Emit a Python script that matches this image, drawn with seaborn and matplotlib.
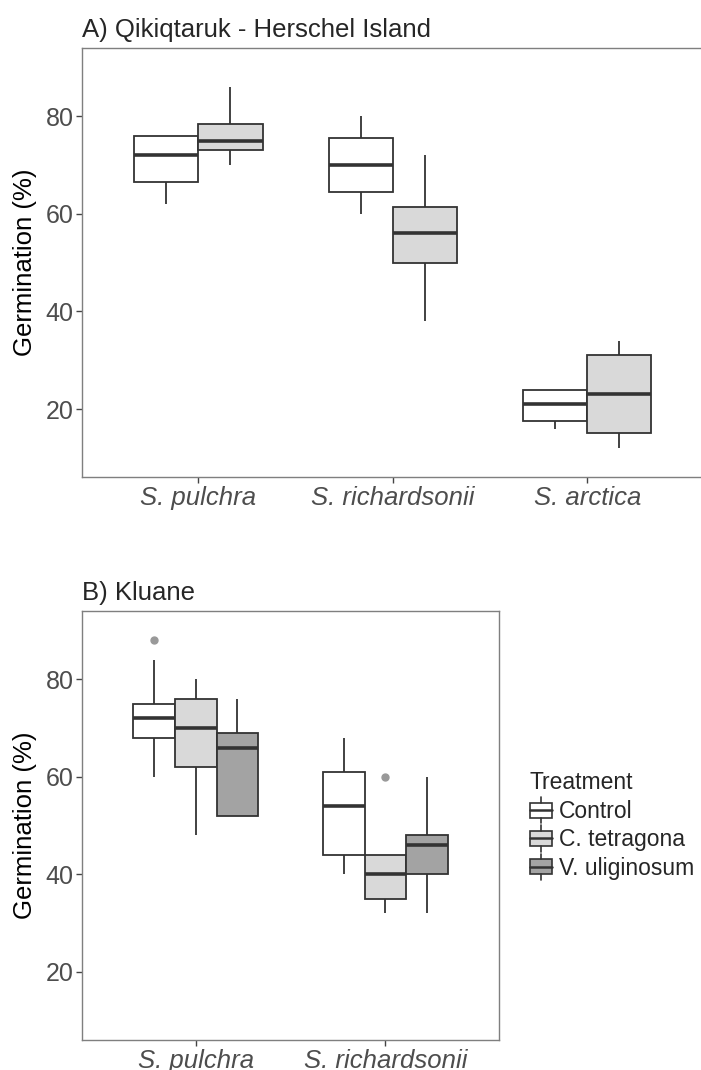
import pandas as pd
import seaborn as sns
import matplotlib.pyplot as plt
from matplotlib.patches import Patch, Rectangle
from matplotlib.lines import Line2D
from matplotlib.legend_handler import HandlerBase

# germination (%) per species x treatment
treatments = ['Control', 'C. tetragona', 'V. uliginosum']
colors = ['#FFFFFF', '#D9D9D9', '#A3A3A3']

# A) Qikiqtaruk - Herschel Island
qhi_species = ['S. pulchra', 'S. richardsonii', 'S. arctica']
qhi_pulchra_control = [62, 66.5, 72, 76, 76]
qhi_pulchra_ctet = [70, 73, 75, 78.5, 86]
qhi_rich_control = [60, 64.5, 70, 75.5, 80]
qhi_rich_ctet = [38, 50, 56, 61.5, 72]
qhi_arctica_control = [16, 17.5, 21, 24, 24]
qhi_arctica_ctet = [12, 15, 23, 31, 34]

# B) Kluane
klu_species = ['S. pulchra', 'S. richardsonii']
klu_pulchra_control = [60, 64, 68, 70, 72, 74, 75, 84, 88]
klu_pulchra_ctet = [48, 62, 70, 76, 80]
klu_pulchra_vulig = [52, 52, 66, 69, 76]
klu_rich_control = [40, 44, 54, 61, 68]
klu_rich_ctet = [32, 34, 35, 38, 40, 42, 44, 44, 60]
klu_rich_vulig = [32, 40, 46, 48, 60]


def long_df(groups):
    rows = []
    for sp, trt, vals in groups:
        for v in vals:
            rows.append({'Species': sp, 'Treatment': trt, 'Germination': v})
    return pd.DataFrame(rows)


qhi = long_df([
    ('S. pulchra', 'Control', qhi_pulchra_control),
    ('S. pulchra', 'C. tetragona', qhi_pulchra_ctet),
    ('S. richardsonii', 'Control', qhi_rich_control),
    ('S. richardsonii', 'C. tetragona', qhi_rich_ctet),
    ('S. arctica', 'Control', qhi_arctica_control),
    ('S. arctica', 'C. tetragona', qhi_arctica_ctet),
])
klu = long_df([
    ('S. pulchra', 'Control', klu_pulchra_control),
    ('S. pulchra', 'C. tetragona', klu_pulchra_ctet),
    ('S. pulchra', 'V. uliginosum', klu_pulchra_vulig),
    ('S. richardsonii', 'Control', klu_rich_control),
    ('S. richardsonii', 'C. tetragona', klu_rich_ctet),
    ('S. richardsonii', 'V. uliginosum', klu_rich_vulig),
])

sns.set_style('white')
plt.rcParams['font.family'] = ['Liberation Sans', 'DejaVu Sans']

fig = plt.figure(figsize=(7.01, 10.7), dpi=100)
ax1 = fig.add_axes([0.1166, 0.5539, 0.8876, 0.4012])
ax2 = fig.add_axes([0.1166, 0.0278, 0.5957, 0.4012])

edge = '#333333'
box_kw = dict(width=0.66, gap=0, linewidth=1.3, linecolor=edge,
              medianprops=dict(linewidth=2.6, color=edge),
              flierprops=dict(marker='o', markersize=5, markerfacecolor='#999999',
                              markeredgecolor='#999999'),
              showcaps=False, saturation=1, legend=False)

sns.boxplot(data=qhi, x='Species', y='Germination', hue='Treatment',
            order=qhi_species, hue_order=treatments[:2],
            palette=colors[:2], ax=ax1, **box_kw)
sns.boxplot(data=klu, x='Species', y='Germination', hue='Treatment',
            order=klu_species, hue_order=treatments,
            palette=colors, ax=ax2, **box_kw)

for ax, title, n in [(ax1, 'A) Qikiqtaruk - Herschel Island', 3), (ax2, 'B) Kluane', 2)]:
    ax.set_xlim(-0.6, n - 0.4)
    ax.set_ylim(6, 94)
    ax.set_yticks([20, 40, 60, 80])
    ax.set_xlabel('')
    ax.set_ylabel('Germination (%)', fontsize=18.5, color='black', labelpad=6)
    ax.set_title(title, loc='left', fontsize=18.5, pad=8)
    ax.tick_params(axis='both', length=4, width=1, color='#444444',
                   labelsize=18, labelcolor='#4D4D4D', pad=2, left=True, bottom=True)
    for lab in ax.get_xticklabels():
        lab.set_fontstyle('italic')
        lab.set_fontsize(18.5)
    for s in ax.spines.values():
        s.set_color('#7F7F7F')
        s.set_linewidth(1.0)


class BoxKey(HandlerBase):
    # ggplot-style boxplot key: box, median line, whisker stubs
    def create_artists(self, legend, orig_handle, xd, yd, width, height, fontsize, trans):
        fc = orig_handle.get_facecolor()
        x0 = -xd
        cx = x0 + width / 2
        cy = -yd + height / 2
        bh, wh = 5.4, 9.4  # half heights in points
        box = Rectangle((x0, cy - bh), width, 2 * bh, facecolor=fc, edgecolor=edge,
                        linewidth=1.2, transform=trans)
        med = Line2D([x0, x0 + width], [cy, cy], color=edge,
                     linewidth=1.8, transform=trans)
        top = Line2D([cx, cx], [cy + bh, cy + wh], color=edge,
                     linewidth=1.2, transform=trans)
        bot = Line2D([cx, cx], [cy - wh, cy - bh], color=edge,
                     linewidth=1.2, transform=trans)
        return [box, med, top, bot]


handles = [Patch(facecolor=c, edgecolor=edge) for c in colors]
fig.legend(handles, treatments, title='Treatment', loc='upper left',
           bbox_to_anchor=(0.756, 0.279), frameon=False, fontsize=16.5,
           title_fontsize=16.5, handlelength=0.96, handleheight=1.2,
           handletextpad=0.3, labelspacing=0.17, alignment='left', borderpad=0,
           borderaxespad=0, handler_map={Patch: BoxKey()})

fig.savefig('out.png', dpi=100)
